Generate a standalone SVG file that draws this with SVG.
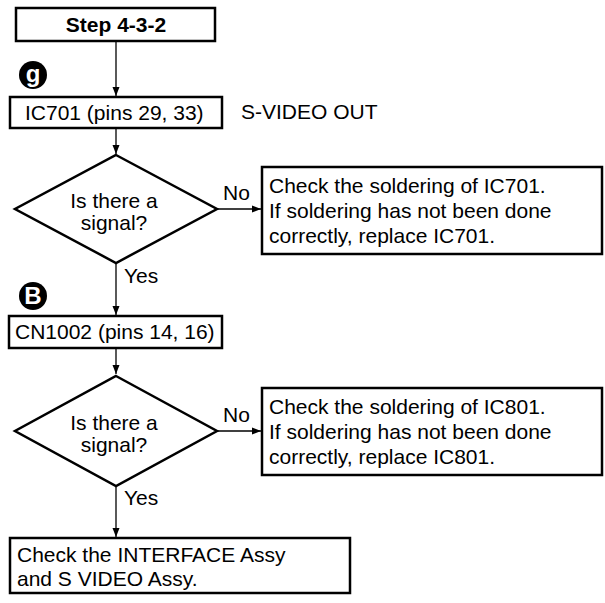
<svg xmlns="http://www.w3.org/2000/svg" width="605" height="603" viewBox="0 0 605 603">
<style>
.box{fill:#fff;stroke:#000;stroke-width:2.5}
.t{font-family:"Liberation Sans",Arial,sans-serif;font-size:21px;fill:#000}
.b{font-weight:bold}
.c{text-anchor:middle}
.ln{stroke:#000;stroke-width:1.3;fill:none}
.circ{fill:#000}
.ct{font-family:"Liberation Sans",Arial,sans-serif;font-size:24px;font-weight:bold;fill:#fff;text-anchor:middle}
</style>
<defs>
<marker id="ah" markerWidth="10" markerHeight="8" refX="9" refY="4" orient="auto" markerUnits="userSpaceOnUse">
<path d="M0,0.5 L9,4 L0,7.5 Z" fill="#000"/>
</marker>
</defs>
<g id="connectors">
<line class="ln" x1="116" y1="41" x2="116" y2="96" marker-end="url(#ah)"/>
<line class="ln" x1="116" y1="128" x2="116" y2="154" marker-end="url(#ah)"/>
<line class="ln" x1="217" y1="209" x2="261" y2="209" marker-end="url(#ah)"/>
<line class="ln" x1="116" y1="263" x2="116" y2="315" marker-end="url(#ah)"/>
<line class="ln" x1="116" y1="348" x2="116" y2="374" marker-end="url(#ah)"/>
<line class="ln" x1="217" y1="431" x2="261" y2="431" marker-end="url(#ah)"/>
<line class="ln" x1="116" y1="486" x2="116" y2="537" marker-end="url(#ah)"/>
<text class="t" x="223" y="200">No</text>
<text class="t" x="124" y="283">Yes</text>
<text class="t" x="223" y="422">No</text>
<text class="t" x="124" y="505">Yes</text>
</g>
<g id="step">
<rect class="box" x="16" y="8" width="199" height="33"/>
<text class="t b c" x="116" y="32">Step 4-3-2</text>
</g>
<g id="mark-g">
<circle class="circ" cx="33" cy="75" r="14"/>
<text class="ct" x="33" y="82">g</text>
</g>
<g id="ic701">
<rect class="box" x="10" y="97" width="212" height="31"/>
<text class="t" x="25" y="120">IC701 (pins 29, 33)</text>
</g>
<g id="svideo-label">
<text class="t" x="241" y="119">S-VIDEO OUT</text>
</g>
<g id="decision1">
<polygon class="box" points="116,155 217,209 116,263 15,209"/>
<text class="t c" x="114" y="208">Is there a</text>
<text class="t c" x="114" y="230">signal?</text>
</g>
<g id="check-ic701">
<rect class="box" x="262" y="167" width="340" height="87"/>
<text class="t" x="269" y="193">Check the soldering of IC701.</text>
<text class="t" x="269" y="218">If soldering has not been done</text>
<text class="t" x="269" y="243">correctly, replace IC701.</text>
</g>
<g id="mark-b">
<circle class="circ" cx="33" cy="296" r="14"/>
<text class="ct" x="33" y="304">B</text>
</g>
<g id="cn1002">
<rect class="box" x="9" y="316" width="213" height="32"/>
<text class="t" x="15" y="339">CN1002 (pins 14, 16)</text>
</g>
<g id="decision2">
<polygon class="box" points="116,376 217,431 116,486 15,431"/>
<text class="t c" x="114" y="430">Is there a</text>
<text class="t c" x="114" y="452">signal?</text>
</g>
<g id="check-ic801">
<rect class="box" x="262" y="388" width="340" height="87"/>
<text class="t" x="269" y="414">Check the soldering of IC801.</text>
<text class="t" x="269" y="439">If soldering has not been done</text>
<text class="t" x="269" y="464">correctly, replace IC801.</text>
</g>
<g id="interface">
<rect class="box" x="10" y="538" width="340" height="55"/>
<text class="t" x="17" y="562">Check the INTERFACE Assy</text>
<text class="t" x="17" y="586">and S VIDEO Assy.</text>
</g>
</svg>
